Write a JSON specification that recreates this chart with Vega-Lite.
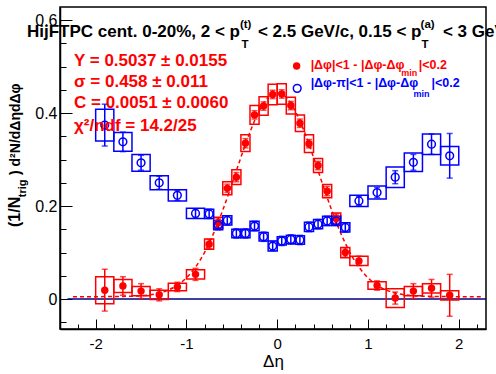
{
  "$schema": "https://vega.github.io/schema/vega-lite/v6.json",
  "width": 426,
  "height": 322,
  "autosize": {"type": "none"},
  "padding": {"left": 60, "top": 7, "right": 10, "bottom": 45},
  "background": "white",
  "config": {"view": {"stroke": "black", "strokeWidth": 1.5}, "font": "Liberation Sans"},
  "resolve": {"axis": {"x": "independent", "y": "independent"}},
  "datasets": {
    "near": [
      {"x": -1.9, "xl": -2.0, "xh": -1.8, "y": 0.019, "e": 0.045, "sl": -0.010, "sh": 0.048},
      {"x": -1.7, "xl": -1.8, "xh": -1.6, "y": 0.028, "e": 0.020, "sl": 0.014, "sh": 0.042},
      {"x": -1.5, "xl": -1.6, "xh": -1.4, "y": 0.017, "e": 0.016, "sl": 0.007, "sh": 0.027},
      {"x": -1.3, "xl": -1.4, "xh": -1.2, "y": 0.009, "e": 0.013, "sl": -0.001, "sh": 0.019},
      {"x": -1.1, "xl": -1.2, "xh": -1.0, "y": 0.026, "e": 0.010, "sl": 0.018, "sh": 0.034},
      {"x": -0.9, "xl": -1.0, "xh": -0.8, "y": 0.053, "e": 0.013, "sl": 0.043, "sh": 0.063},
      {"x": -0.75, "xl": -0.8, "xh": -0.7, "y": 0.118, "e": 0.010, "sl": 0.107, "sh": 0.129},
      {"x": -0.65, "xl": -0.7, "xh": -0.6, "y": 0.164, "e": 0.010, "sl": 0.152, "sh": 0.176},
      {"x": -0.55, "xl": -0.6, "xh": -0.5, "y": 0.238, "e": 0.009, "sl": 0.224, "sh": 0.252},
      {"x": -0.45, "xl": -0.5, "xh": -0.4, "y": 0.262, "e": 0.010, "sl": 0.246, "sh": 0.278},
      {"x": -0.35, "xl": -0.4, "xh": -0.3, "y": 0.335, "e": 0.010, "sl": 0.317, "sh": 0.353},
      {"x": -0.25, "xl": -0.3, "xh": -0.2, "y": 0.396, "e": 0.009, "sl": 0.376, "sh": 0.416},
      {"x": -0.15, "xl": -0.2, "xh": -0.1, "y": 0.415, "e": 0.009, "sl": 0.395, "sh": 0.435},
      {"x": -0.05, "xl": -0.1, "xh": 0.0, "y": 0.440, "e": 0.009, "sl": 0.418, "sh": 0.462},
      {"x": 0.05, "xl": 0.0, "xh": 0.1, "y": 0.441, "e": 0.009, "sl": 0.419, "sh": 0.463},
      {"x": 0.15, "xl": 0.1, "xh": 0.2, "y": 0.416, "e": 0.009, "sl": 0.398, "sh": 0.434},
      {"x": 0.25, "xl": 0.2, "xh": 0.3, "y": 0.378, "e": 0.009, "sl": 0.360, "sh": 0.396},
      {"x": 0.35, "xl": 0.3, "xh": 0.4, "y": 0.334, "e": 0.009, "sl": 0.315, "sh": 0.353},
      {"x": 0.45, "xl": 0.4, "xh": 0.5, "y": 0.287, "e": 0.009, "sl": 0.272, "sh": 0.302},
      {"x": 0.55, "xl": 0.5, "xh": 0.6, "y": 0.232, "e": 0.010, "sl": 0.218, "sh": 0.246},
      {"x": 0.65, "xl": 0.6, "xh": 0.7, "y": 0.173, "e": 0.010, "sl": 0.161, "sh": 0.185},
      {"x": 0.75, "xl": 0.7, "xh": 0.8, "y": 0.100, "e": 0.010, "sl": 0.089, "sh": 0.111},
      {"x": 0.9, "xl": 0.8, "xh": 1.0, "y": 0.082, "e": 0.010, "sl": 0.072, "sh": 0.092},
      {"x": 1.1, "xl": 1.0, "xh": 1.2, "y": 0.029, "e": 0.010, "sl": 0.021, "sh": 0.037},
      {"x": 1.3, "xl": 1.2, "xh": 1.4, "y": 0.002, "e": 0.013, "sl": -0.018, "sh": 0.022},
      {"x": 1.5, "xl": 1.4, "xh": 1.6, "y": 0.017, "e": 0.016, "sl": 0.007, "sh": 0.027},
      {"x": 1.7, "xl": 1.6, "xh": 1.8, "y": 0.023, "e": 0.019, "sl": 0.013, "sh": 0.033},
      {"x": 1.9, "xl": 1.8, "xh": 2.0, "y": 0.008, "e": 0.045, "sl": -0.002, "sh": 0.018}
    ],
    "away": [
      {"x": -1.9, "xl": -2.0, "xh": -1.8, "y": 0.374, "e": 0.045, "sl": 0.340, "sh": 0.408},
      {"x": -1.7, "xl": -1.8, "xh": -1.6, "y": 0.338, "e": 0.021, "sl": 0.318, "sh": 0.358},
      {"x": -1.5, "xl": -1.6, "xh": -1.4, "y": 0.293, "e": 0.016, "sl": 0.275, "sh": 0.311},
      {"x": -1.3, "xl": -1.4, "xh": -1.2, "y": 0.250, "e": 0.014, "sl": 0.235, "sh": 0.265},
      {"x": -1.1, "xl": -1.2, "xh": -1.0, "y": 0.223, "e": 0.011, "sl": 0.211, "sh": 0.235},
      {"x": -0.9, "xl": -1.0, "xh": -0.8, "y": 0.184, "e": 0.010, "sl": 0.173, "sh": 0.195},
      {"x": -0.75, "xl": -0.8, "xh": -0.7, "y": 0.183, "e": 0.010, "sl": 0.173, "sh": 0.193},
      {"x": -0.65, "xl": -0.7, "xh": -0.6, "y": 0.159, "e": 0.010, "sl": 0.149, "sh": 0.169},
      {"x": -0.55, "xl": -0.6, "xh": -0.5, "y": 0.169, "e": 0.010, "sl": 0.159, "sh": 0.179},
      {"x": -0.45, "xl": -0.5, "xh": -0.4, "y": 0.141, "e": 0.010, "sl": 0.132, "sh": 0.150},
      {"x": -0.35, "xl": -0.4, "xh": -0.3, "y": 0.141, "e": 0.010, "sl": 0.132, "sh": 0.150},
      {"x": -0.25, "xl": -0.3, "xh": -0.2, "y": 0.157, "e": 0.010, "sl": 0.147, "sh": 0.167},
      {"x": -0.15, "xl": -0.2, "xh": -0.1, "y": 0.134, "e": 0.010, "sl": 0.125, "sh": 0.143},
      {"x": -0.05, "xl": -0.1, "xh": 0.0, "y": 0.114, "e": 0.010, "sl": 0.103, "sh": 0.125},
      {"x": 0.05, "xl": 0.0, "xh": 0.1, "y": 0.125, "e": 0.010, "sl": 0.116, "sh": 0.134},
      {"x": 0.15, "xl": 0.1, "xh": 0.2, "y": 0.128, "e": 0.010, "sl": 0.119, "sh": 0.137},
      {"x": 0.25, "xl": 0.2, "xh": 0.3, "y": 0.127, "e": 0.010, "sl": 0.118, "sh": 0.136},
      {"x": 0.35, "xl": 0.3, "xh": 0.4, "y": 0.155, "e": 0.010, "sl": 0.145, "sh": 0.165},
      {"x": 0.45, "xl": 0.4, "xh": 0.5, "y": 0.161, "e": 0.010, "sl": 0.151, "sh": 0.171},
      {"x": 0.55, "xl": 0.5, "xh": 0.6, "y": 0.168, "e": 0.010, "sl": 0.158, "sh": 0.178},
      {"x": 0.65, "xl": 0.6, "xh": 0.7, "y": 0.168, "e": 0.010, "sl": 0.158, "sh": 0.178},
      {"x": 0.75, "xl": 0.7, "xh": 0.8, "y": 0.154, "e": 0.010, "sl": 0.144, "sh": 0.164},
      {"x": 0.9, "xl": 0.8, "xh": 1.0, "y": 0.211, "e": 0.010, "sl": 0.199, "sh": 0.223},
      {"x": 1.1, "xl": 1.0, "xh": 1.2, "y": 0.229, "e": 0.011, "sl": 0.215, "sh": 0.243},
      {"x": 1.3, "xl": 1.2, "xh": 1.4, "y": 0.262, "e": 0.014, "sl": 0.240, "sh": 0.284},
      {"x": 1.5, "xl": 1.4, "xh": 1.6, "y": 0.294, "e": 0.017, "sl": 0.274, "sh": 0.314},
      {"x": 1.7, "xl": 1.6, "xh": 1.8, "y": 0.333, "e": 0.022, "sl": 0.311, "sh": 0.355},
      {"x": 1.9, "xl": 1.8, "xh": 2.0, "y": 0.308, "e": 0.048, "sl": 0.288, "sh": 0.328}
    ],
    "fit": [
      {"x": -2.25, "y": 0.0051}, {"x": -2.0, "y": 0.0051}, {"x": -1.8, "y": 0.0053},
      {"x": -1.7, "y": 0.0056}, {"x": -1.6, "y": 0.0061}, {"x": -1.5, "y": 0.0072},
      {"x": -1.4, "y": 0.0092}, {"x": -1.3, "y": 0.0129}, {"x": -1.2, "y": 0.0193},
      {"x": -1.1, "y": 0.0296}, {"x": -1.0, "y": 0.0456}, {"x": -0.9, "y": 0.0687},
      {"x": -0.8, "y": 0.1005}, {"x": -0.7, "y": 0.1416}, {"x": -0.6, "y": 0.1911},
      {"x": -0.5, "y": 0.2469}, {"x": -0.4, "y": 0.3047}, {"x": -0.3, "y": 0.3591},
      {"x": -0.2, "y": 0.4040}, {"x": -0.1, "y": 0.4335}, {"x": 0.0, "y": 0.4439},
      {"x": 0.1, "y": 0.4335}, {"x": 0.2, "y": 0.4040}, {"x": 0.3, "y": 0.3591},
      {"x": 0.4, "y": 0.3047}, {"x": 0.5, "y": 0.2469}, {"x": 0.6, "y": 0.1911},
      {"x": 0.7, "y": 0.1416}, {"x": 0.8, "y": 0.1005}, {"x": 0.9, "y": 0.0687},
      {"x": 1.0, "y": 0.0456}, {"x": 1.1, "y": 0.0296}, {"x": 1.2, "y": 0.0193},
      {"x": 1.3, "y": 0.0129}, {"x": 1.4, "y": 0.0092}, {"x": 1.5, "y": 0.0072},
      {"x": 1.6, "y": 0.0061}, {"x": 1.7, "y": 0.0056}, {"x": 1.8, "y": 0.0053},
      {"x": 2.0, "y": 0.0051}, {"x": 2.25, "y": 0.0051}
    ],
    "zero": [{"x": -2.31, "y": 0}, {"x": 2.3, "y": 0}],
    "title_main": [
      {"x": -2.757, "y": 0.5634, "t": "HijFTPC cent. 0-20%, 2 < p"},
      {"x": -0.2125, "y": 0.5634, "t": "< 2.5 GeV/c, 0.15 < p"},
      {"x": 1.825, "y": 0.5634, "t": "< 3 GeV/c"}
    ],
    "title_sup": [
      {"x": -0.411, "y": 0.5828, "t": "(t)"},
      {"x": 1.579, "y": 0.5828, "t": "(a)"}
    ],
    "title_sub": [
      {"x": -0.394, "y": 0.539, "t": "T"},
      {"x": 1.590, "y": 0.539, "t": "T"}
    ],
    "stats": [
      {"x": -2.239, "y": 0.501, "t": "Y = 0.5037  ± 0.0155"},
      {"x": -2.239, "y": 0.4566, "t": "σ = 0.458  ± 0.011"},
      {"x": -2.239, "y": 0.4114, "t": "C = 0.0051  ± 0.0060"},
      {"x": -2.239, "y": 0.362, "t": "χ²/ndf = 14.2/25"}
    ],
    "leg_red": [
      {"x": 0.368, "y": 0.4946, "t": "|Δφ|<1 - |Δφ-Δφ"},
      {"x": 1.56, "y": 0.4946, "t": "|<0.2"}
    ],
    "leg_red_sub": [{"x": 1.365, "y": 0.4796, "t": "min"}],
    "leg_blue": [
      {"x": 0.368, "y": 0.4553, "t": "|Δφ-π|<1 - |Δφ-Δφ"},
      {"x": 1.70, "y": 0.4553, "t": "|<0.2"}
    ],
    "leg_blue_sub": [{"x": 1.50, "y": 0.4344, "t": "min"}],
    "leg_red_pt": [{"x": 0.214, "y": 0.501}],
    "leg_blue_pt": [{"x": 0.220, "y": 0.453}],
    "ytitle_main": [
      {"x": -2.834, "y": 0.1548, "t": "(1/N"}
    ],
    "ytitle_rest": [
      {"x": -2.834, "y": 0.2667, "t": ") d²N/dΔηdΔφ"}
    ],
    "ytitle_sub": [{"x": -2.773, "y": 0.219, "t": "trig"}]
  },
  "layer": [
    {
      "data": {"name": "zero"},
      "mark": {"type": "line", "color": "#000080", "strokeWidth": 1.5},
      "encoding": {
        "x": {
          "field": "x", "type": "quantitative",
          "scale": {"domain": [-2.393, 2.3], "nice": false, "zero": false},
          "axis": {
            "orient": "bottom",
            "values": [-2, -1, 0, 1, 2],
            "tickSize": -10,
            "labelExpr": "'' + datum.value",
            "grid": false, "domainColor": "black", "domainWidth": 1.5,
            "tickColor": "black", "tickWidth": 1,
            "labelFont": "Liberation Sans", "labelFontSize": 15, "labelColor": "black",
            "labelPadding": 17, "labelOverlap": false, "labelFlush": false,
            "title": "Δη", "titleFont": "Liberation Sans", "titleFontSize": 17,
            "titleFontWeight": "normal", "titleColor": "black", "titlePadding": 2
          }
        },
        "y": {
          "field": "y", "type": "quantitative",
          "scale": {"domain": [-0.0645, 0.628], "nice": false, "zero": false},
          "axis": {
            "orient": "left",
            "values": [0, 0.2, 0.4, 0.6],
            "tickSize": -12,
            "labelExpr": "'' + datum.value",
            "grid": false, "domainColor": "black", "domainWidth": 1.5,
            "tickColor": "black", "tickWidth": 1,
            "labelFont": "Liberation Sans", "labelFontSize": 16, "labelColor": "black",
            "labelPadding": 15, "labelOverlap": false, "labelFlush": false,
            "title": null
          }
        }
      }
    },
    {
      "data": {"name": "fit"},
      "mark": {"type": "line", "color": "red", "strokeWidth": 1.5, "strokeDash": [4, 3], "interpolate": "monotone"},
      "encoding": {
        "x": {
          "field": "x", "type": "quantitative",
          "axis": {
            "orient": "bottom",
            "values": [-2.2, -1.8, -1.6, -1.4, -1.2, -0.8, -0.6, -0.4, -0.2, 0.2, 0.4, 0.6, 0.8, 1.2, 1.4, 1.6, 1.8, 2.2],
            "tickSize": -5, "labels": false, "domain": false, "grid": false,
            "tickColor": "black", "tickWidth": 1, "title": null
          }
        },
        "y": {
          "field": "y", "type": "quantitative",
          "axis": {
            "orient": "left",
            "values": [-0.05, 0.05, 0.1, 0.15, 0.25, 0.3, 0.35, 0.45, 0.5, 0.55],
            "tickSize": -6, "labels": false, "domain": false, "grid": false,
            "tickColor": "black", "tickWidth": 1, "title": null
          }
        }
      }
    },
    {
      "data": {"name": "near"},
      "mark": {"type": "rect", "fill": null, "fillOpacity": 0, "stroke": "red", "strokeWidth": 1.5},
      "encoding": {
        "x": {"field": "xl", "type": "quantitative", "axis": null},
        "x2": {"field": "xh"},
        "y": {"field": "sl", "type": "quantitative", "axis": null},
        "y2": {"field": "sh"}
      }
    },
    {
      "data": {"name": "away"},
      "mark": {"type": "rect", "fill": null, "fillOpacity": 0, "stroke": "blue", "strokeWidth": 1.5},
      "encoding": {
        "x": {"field": "xl", "type": "quantitative", "axis": null},
        "x2": {"field": "xh"},
        "y": {"field": "sl", "type": "quantitative", "axis": null},
        "y2": {"field": "sh"}
      }
    },
    {
      "data": {"name": "near"},
      "mark": {"type": "errorbar", "color": "red", "thickness": 1.5, "ticks": {"size": 6, "thickness": 1.5}},
      "encoding": {
        "x": {"field": "x", "type": "quantitative", "axis": null},
        "y": {"field": "y", "type": "quantitative", "axis": null},
        "yError": {"field": "e"}
      }
    },
    {
      "data": {"name": "away"},
      "mark": {"type": "errorbar", "color": "blue", "thickness": 1.5, "ticks": {"size": 6, "thickness": 1.5}},
      "encoding": {
        "x": {"field": "x", "type": "quantitative", "axis": null},
        "y": {"field": "y", "type": "quantitative", "axis": null},
        "yError": {"field": "e"}
      }
    },
    {
      "data": {"name": "near"},
      "mark": {"type": "point", "shape": "circle", "filled": true, "color": "red", "size": 55, "opacity": 1},
      "encoding": {
        "x": {"field": "x", "type": "quantitative", "axis": null},
        "y": {"field": "y", "type": "quantitative", "axis": null}
      }
    },
    {
      "data": {"name": "away"},
      "mark": {"type": "point", "shape": "circle", "filled": false, "color": "blue", "size": 60, "strokeWidth": 1.5, "opacity": 1},
      "encoding": {
        "x": {"field": "x", "type": "quantitative", "axis": null},
        "y": {"field": "y", "type": "quantitative", "axis": null}
      }
    },
    {
      "data": {"name": "leg_red_pt"},
      "mark": {"type": "point", "shape": "circle", "filled": true, "color": "red", "size": 55, "opacity": 1},
      "encoding": {
        "x": {"field": "x", "type": "quantitative", "axis": null},
        "y": {"field": "y", "type": "quantitative", "axis": null}
      }
    },
    {
      "data": {"name": "leg_blue_pt"},
      "mark": {"type": "point", "shape": "circle", "filled": false, "color": "blue", "size": 60, "strokeWidth": 1.5, "opacity": 1},
      "encoding": {
        "x": {"field": "x", "type": "quantitative", "axis": null},
        "y": {"field": "y", "type": "quantitative", "axis": null}
      }
    },
    {
      "data": {"name": "title_main"},
      "mark": {"type": "text", "align": "left", "baseline": "alphabetic", "font": "Liberation Sans", "fontWeight": "bold", "fontSize": 17, "color": "black"},
      "encoding": {
        "x": {"field": "x", "type": "quantitative", "axis": null},
        "y": {"field": "y", "type": "quantitative", "axis": null},
        "text": {"field": "t"}
      }
    },
    {
      "data": {"name": "title_sup"},
      "mark": {"type": "text", "align": "left", "baseline": "alphabetic", "font": "Liberation Sans", "fontWeight": "bold", "fontSize": 11.5, "color": "black"},
      "encoding": {
        "x": {"field": "x", "type": "quantitative", "axis": null},
        "y": {"field": "y", "type": "quantitative", "axis": null},
        "text": {"field": "t"}
      }
    },
    {
      "data": {"name": "title_sub"},
      "mark": {"type": "text", "align": "left", "baseline": "alphabetic", "font": "Liberation Sans", "fontWeight": "bold", "fontSize": 11.5, "color": "black"},
      "encoding": {
        "x": {"field": "x", "type": "quantitative", "axis": null},
        "y": {"field": "y", "type": "quantitative", "axis": null},
        "text": {"field": "t"}
      }
    },
    {
      "data": {"name": "stats"},
      "mark": {"type": "text", "align": "left", "baseline": "alphabetic", "font": "Liberation Sans", "fontWeight": "bold", "fontSize": 17, "color": "red"},
      "encoding": {
        "x": {"field": "x", "type": "quantitative", "axis": null},
        "y": {"field": "y", "type": "quantitative", "axis": null},
        "text": {"field": "t"}
      }
    },
    {
      "data": {"name": "leg_red"},
      "mark": {"type": "text", "align": "left", "baseline": "alphabetic", "font": "Liberation Sans", "fontWeight": "bold", "fontSize": 12.5, "color": "red"},
      "encoding": {
        "x": {"field": "x", "type": "quantitative", "axis": null},
        "y": {"field": "y", "type": "quantitative", "axis": null},
        "text": {"field": "t"}
      }
    },
    {
      "data": {"name": "leg_red_sub"},
      "mark": {"type": "text", "align": "left", "baseline": "alphabetic", "font": "Liberation Sans", "fontWeight": "bold", "fontSize": 9, "color": "red"},
      "encoding": {
        "x": {"field": "x", "type": "quantitative", "axis": null},
        "y": {"field": "y", "type": "quantitative", "axis": null},
        "text": {"field": "t"}
      }
    },
    {
      "data": {"name": "leg_blue"},
      "mark": {"type": "text", "align": "left", "baseline": "alphabetic", "font": "Liberation Sans", "fontWeight": "bold", "fontSize": 12.5, "color": "blue"},
      "encoding": {
        "x": {"field": "x", "type": "quantitative", "axis": null},
        "y": {"field": "y", "type": "quantitative", "axis": null},
        "text": {"field": "t"}
      }
    },
    {
      "data": {"name": "leg_blue_sub"},
      "mark": {"type": "text", "align": "left", "baseline": "alphabetic", "font": "Liberation Sans", "fontWeight": "bold", "fontSize": 9, "color": "blue"},
      "encoding": {
        "x": {"field": "x", "type": "quantitative", "axis": null},
        "y": {"field": "y", "type": "quantitative", "axis": null},
        "text": {"field": "t"}
      }
    },
    {
      "data": {"name": "ytitle_main"},
      "mark": {"type": "text", "align": "left", "baseline": "alphabetic", "angle": 270, "font": "Liberation Sans", "fontWeight": "bold", "fontSize": 16, "color": "black"},
      "encoding": {
        "x": {"field": "x", "type": "quantitative", "axis": null},
        "y": {"field": "y", "type": "quantitative", "axis": null},
        "text": {"field": "t"}
      }
    },
    {
      "data": {"name": "ytitle_rest"},
      "mark": {"type": "text", "align": "left", "baseline": "alphabetic", "angle": 270, "font": "Liberation Sans", "fontWeight": "bold", "fontSize": 14, "color": "black"},
      "encoding": {
        "x": {"field": "x", "type": "quantitative", "axis": null},
        "y": {"field": "y", "type": "quantitative", "axis": null},
        "text": {"field": "t"}
      }
    },
    {
      "data": {"name": "ytitle_sub"},
      "mark": {"type": "text", "align": "left", "baseline": "alphabetic", "angle": 270, "font": "Liberation Sans", "fontWeight": "bold", "fontSize": 11, "color": "black"},
      "encoding": {
        "x": {"field": "x", "type": "quantitative", "axis": null},
        "y": {"field": "y", "type": "quantitative", "axis": null},
        "text": {"field": "t"}
      }
    }
  ]
}
